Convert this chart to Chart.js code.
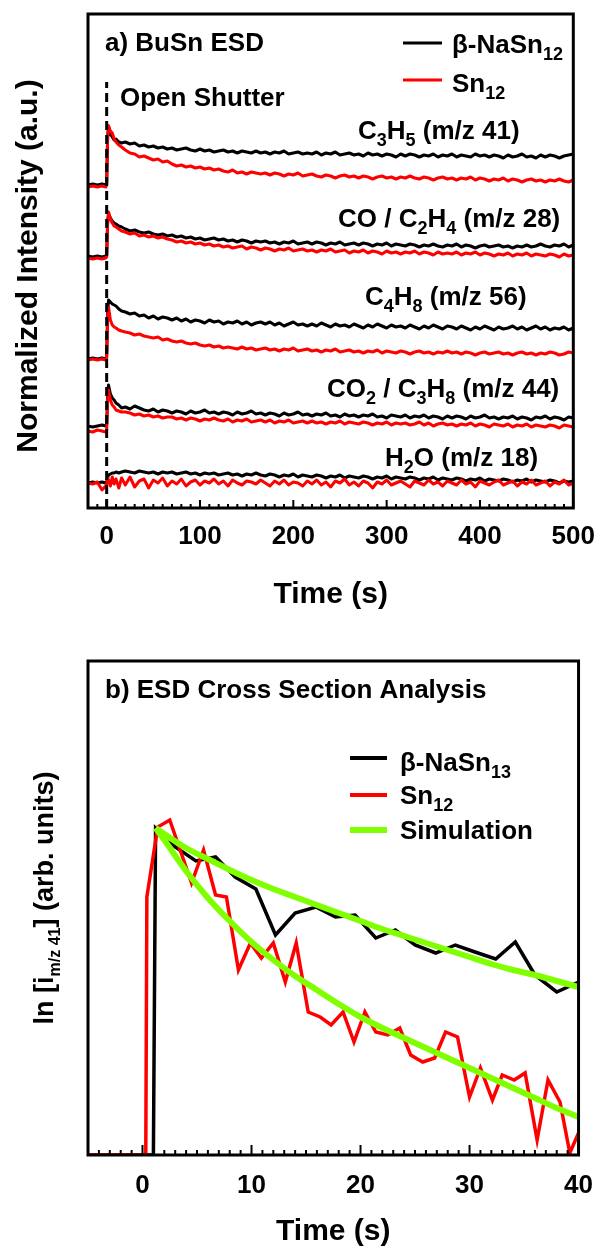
<!DOCTYPE html>
<html><head><meta charset="utf-8">
<script src="https://cdn.jsdelivr.net/npm/chart.js@4.4.0/dist/chart.umd.min.js"></script>
<style>
html,body{margin:0;padding:0;background:#fff;overflow:hidden;width:608px;height:1253px;}
canvas{position:absolute;left:0;}
#ca{top:0;} #cb{top:640px;}
</style></head><body>
<canvas id="ca" width="608" height="640" style="width:608px;height:640px"></canvas>
<canvas id="cb" width="608" height="640" style="width:608px;height:640px"></canvas>
<script>
// ---------- Panel a data (time in s, normalized intensity with offsets) ----------
const timeA = [-20,-15,-10,-5,-1,0,1,2,4,6,8,10,13,16,
 20,25,30,35,40,45,50,55,60,65,
 70,75,80,85,90,95,100,105,110,115,
 120,125,130,135,140,145,150,155,160,165,
 170,175,180,185,190,195,200,205,210,215,
 220,225,230,235,240,245,250,255,260,265,
 270,275,280,285,290,295,300,305,310,315,
 320,325,330,335,340,345,350,355,360,365,
 370,375,380,385,390,395,400,405,410,415,
 420,425,430,435,440,445,450,455,460,465,
 470,475,480,485,490,495,500];

const c3h5Black = [323,324,323,324,323,325,370,382,374,371,368,369,366,365,
 366,364,365,362,363,361,362,360,361,359,
 360,358,359,360,358,357,359,357,358,356,
 357,358,356,357,355,357,356,355,357,355,
 356,354,356,355,357,354,355,356,354,355,
 354,356,353,355,354,356,353,354,355,353,
 354,352,355,353,354,352,354,353,351,354,
 352,354,353,351,353,352,354,351,353,352,
 354,351,353,352,351,354,352,353,351,353,
 352,350,353,351,352,354,351,352,350,353,
 351,353,352,350,352,353,354];
const c3h5Red = [321,322,321,322,321,323,370,382,377,375,369,366,363,361,
 358,355,354,351,352,350,348,349,346,347,
 344,342,343,341,342,340,341,339,340,338,
 339,337,336,338,335,336,334,336,335,334,
 335,333,335,334,332,334,333,335,332,333,
 334,332,331,333,332,330,332,333,331,332,
 330,332,331,329,331,332,330,331,329,331,
 330,332,330,329,331,330,328,330,331,329,
 330,328,330,329,331,328,330,329,327,329,
 328,330,327,329,328,326,328,329,327,328,
 326,328,327,329,327,326,328];
const coBlack = [252,251,252,251,252,253,285,294,290,287,285,284,282,281,
 279,277,278,276,275,276,274,273,274,272,
 273,271,272,270,271,269,270,268,269,270,
 268,269,267,268,266,268,267,265,267,266,
 267,265,266,264,266,265,267,264,265,266,
 264,266,265,263,265,264,266,263,264,265,
 263,265,264,262,264,263,265,262,264,263,
 262,264,263,261,263,262,264,262,261,263,
 262,264,261,263,262,260,262,263,261,262,
 263,261,262,260,262,261,263,261,262,264,
 262,261,263,262,264,261,263];
const coRed = [250,249,250,249,250,251,285,296,289,285,282,281,279,277,
 276,274,275,272,273,271,272,270,271,269,
 268,266,267,265,266,264,265,263,264,262,
 263,261,262,260,261,262,259,261,260,258,
 260,259,257,259,258,260,257,258,259,257,
 258,256,258,257,259,256,257,258,255,257,
 256,258,255,257,256,254,257,255,256,254,
 256,255,257,254,256,255,253,256,254,255,
 254,256,253,255,254,256,253,255,254,252,
 254,253,255,252,254,253,255,252,254,253,
 252,254,253,251,254,252,253];
const c4h8Black = [149,150,149,150,149,151,195,208,206,204,203,202,199,197,
 196,194,195,192,193,190,192,189,191,190,
 188,190,187,189,186,188,187,185,188,186,
 187,184,186,185,187,184,186,183,185,186,
 184,186,183,185,182,184,186,183,184,182,
 184,182,185,183,181,184,182,183,181,184,
 182,180,183,181,184,182,180,183,181,182,
 180,183,181,179,182,180,183,181,179,182,
 181,179,182,180,178,181,179,182,180,178,
 181,179,180,182,179,181,178,180,182,179,
 181,178,180,179,181,178,180];
const c4h8Red = [148,149,148,149,148,150,190,201,188,183,181,180,178,177,
 176,175,173,174,172,171,170,171,168,169,
 167,166,167,165,164,165,163,162,163,161,
 162,160,161,160,159,161,159,160,158,159,
 160,158,159,157,159,158,160,157,158,159,
 157,158,156,158,157,159,156,157,158,156,
 157,155,157,156,158,155,157,156,155,157,
 156,154,156,157,155,156,154,156,155,157,
 155,156,154,156,155,153,155,156,154,155,
 156,154,155,153,155,156,154,155,153,155,
 154,156,155,153,154,156,155];
const co2Black = [82,81,82,83,82,83,112,123,114,110,108,105,103,100,
 101,99,102,100,98,97,99,96,98,97,
 95,97,96,94,97,95,96,98,95,96,
 94,96,95,93,96,94,95,97,94,95,
 93,95,94,92,95,93,94,96,93,94,
 92,94,93,95,92,93,91,94,92,93,
 91,93,92,94,91,92,90,93,92,91,
 93,90,92,91,93,90,92,91,89,92,
 90,92,91,89,92,90,91,93,90,91,
 89,91,90,92,89,91,90,88,91,90,
 92,89,91,90,88,91,90];
const co2Red = [77,76,78,77,76,78,108,118,108,103,101,98,97,96,
 96,95,93,94,92,93,91,92,90,91,
 91,89,90,88,90,89,87,89,88,90,
 88,87,89,86,88,87,89,86,87,88,
 86,88,85,87,86,88,85,86,87,85,
 87,85,86,84,86,85,87,84,86,85,
 84,86,85,83,85,84,86,83,85,84,
 85,83,84,86,83,85,82,84,85,83,
 84,82,84,83,85,82,84,83,81,84,
 83,82,84,81,83,82,84,81,83,82,
 81,83,82,80,83,82,81];
const h2oBlack = [25,26,25,26,25,26,30,33,34,35,35,36,35,36,
 37,36,35,37,36,35,36,34,36,35,
 36,34,35,36,34,35,33,35,34,35,
 33,34,35,33,34,32,34,33,35,33,
 32,34,33,31,33,32,34,31,33,32,
 31,33,32,30,32,31,33,30,32,31,
 30,32,31,29,31,30,32,29,31,30,
 29,31,30,28,30,29,31,28,30,29,
 28,30,29,27,29,28,30,27,29,28,
 27,29,28,26,28,27,29,26,28,27,
 26,28,27,25,27,26,27];
const h2oRed = [25,24,26,18,22,24,30,28,22,31,24,29,20,30,
 23,31,21,27,29,20,28,25,30,22,
 27,24,29,22,26,28,23,27,25,29,
 24,27,22,28,25,23,27,26,24,28,
 25,22,27,24,28,23,26,25,22,27,
 24,28,23,26,21,27,25,29,23,26,
 22,27,25,20,26,24,28,23,25,27,
 24,21,27,25,23,28,24,26,22,27,
 25,23,28,24,26,21,27,25,23,26,
 28,23,25,27,22,26,24,28,23,25,
 27,22,26,24,28,23,25];
const shutterLine = [{x:0,y:0},{x:0,y:426}];
const speciesLabels = ['C_{3}H_{5} (m/z 41)','CO / C_{2}H_{4} (m/z 28)','C_{4}H_{8} (m/z 56)','CO_{2} / C_{3}H_{8} (m/z 44)','H_{2}O (m/z 18)'];
const legendA = ['β-NaSn_{12}','Sn_{12}'];

// ---------- Panel b data ----------
const timeBlackB = [-5,1.0,1.2,3.0,4.9,6.7,8.5,10.4,12.2,14.0,15.9,17.7,19.5,21.4,23.2,25.0,26.9,28.7,30.5,32.4,34.2,36.0,38.0,40.0];
const lnBlack   = [0,0,327,308,294,298,278,266,220,242,248,238,240,217,225,210,202,210,203,196,213,180,163,173];
const timeRedB = [-5,0.3,0.4,1.4,2.5,4.5,5.6,6.7,7.7,8.8,9.9,10.9,12.0,13.1,14.1,15.2,16.3,17.3,18.4,19.4,20.4,21.4,22.5,23.6,24.6,25.7,26.8,27.8,28.9,30.0,31.0,32.1,33.0,34.1,35.1,36.2,37.2,38.3,39.2,40.0];
const lnRed   = [0,0,258,328,335,272,305,260,258,185,212,197,212,173,212,143,138,130,143,113,143,123,120,127,100,93,97,123,118,58,87,55,80,75,82,15,75,53,2,22];
const timeSim = [1.2,2,4,6,8,10,12,14,16,18,20,22,24,26,28,30,32,34,36,38,40];
const simBlack = [327,321,307,296,285,275,266,258,250,242,234,226,219,212,205,198,191,185,180,174,168];
const simRed   = [327,315,284,257,234,213,195,179,165,151,138,127,117,107,97,87,77,67,57,47,38];
const legendB = ['β-NaSn_{13}','Sn_{12}','Simulation'];

// ---------- helpers ----------
const FAM = '"Liberation Sans", Arial, Helvetica, sans-serif';
const toXY = (xs, ys) => xs.map((x,i)=>({x:x, y:ys[i]}));
function parseRich(s){
  const segs=[]; const re=/_\{([^}]*)\}/g; let last=0, m;
  while((m=re.exec(s))){ if(m.index>last) segs.push({t:s.slice(last,m.index),sub:false}); segs.push({t:m[1],sub:true}); last=re.lastIndex; }
  if(last<s.length) segs.push({t:s.slice(last),sub:false});
  return segs;
}
function drawRich(ctx, s, x, y, size, align, subSize){
  const segs=parseRich(s); const ss = subSize || Math.round(size*0.68);
  const fM=`bold ${size}px ${FAM}`, fS=`bold ${ss}px ${FAM}`;
  let w=0; segs.forEach(g=>{ctx.font=g.sub?fS:fM; g.w=ctx.measureText(g.t).width; w+=g.w;});
  let cx = align==='center'? x-w/2 : (align==='right'? x-w : x);
  ctx.textAlign='left'; ctx.textBaseline='alphabetic'; ctx.fillStyle='#000';
  segs.forEach(g=>{ctx.font=g.sub?fS:fM; ctx.fillText(g.t, cx, y + (g.sub? size*0.27:0)); cx+=g.w;});
}
function framePlugin(major, minorLen, majorLen){
  return {id:'frame', afterDatasetsDraw(chart){
    const {ctx, chartArea:a, scales:{x}} = chart;
    ctx.save(); ctx.strokeStyle='#000'; ctx.lineWidth=2;
    x.ticks.forEach(t=>{
      const px = x.getPixelForValue(t.value);
      const len = (Math.abs(t.value % major) < 1e-6) ? majorLen : minorLen;
      ctx.beginPath(); ctx.moveTo(px, a.bottom); ctx.lineTo(px, a.bottom-len); ctx.stroke();
    });
    ctx.lineWidth=3; ctx.strokeRect(a.left, a.top, a.right-a.left, a.bottom-a.top);
    ctx.restore();
  }};
}
const tickFont = {family:FAM, size:26, weight:'bold'};
const titleFont = {family:FAM, size:30, weight:'bold'};

// ---------- Panel a ----------
const annotA = {id:'annotA', afterDraw(chart){
  const ctx=chart.ctx; ctx.save();
  drawRich(ctx,'a) BuSn ESD',105,51,26,'left');
  drawRich(ctx,'Open Shutter',120,106,26,'left');
  const lx=[358,338,365,327,385], ly=[130,218,296,388,457];
  speciesLabels.forEach((s,i)=>drawRich(ctx,s,lx[i],ly[i]+9,26,'left',18));
  const ds=chart.data.datasets;
  [[ds[6].borderColor,43,53],[ds[1].borderColor,80,92]].forEach((r,i)=>{
    ctx.strokeStyle=r[0]; ctx.lineWidth=3; ctx.beginPath(); ctx.moveTo(403,r[1]); ctx.lineTo(442,r[1]); ctx.stroke();
    drawRich(ctx,legendA[i],452,r[2],26,'left',18);
  });
  ctx.translate(37,266); ctx.rotate(-Math.PI/2);
  drawRich(ctx,'Normalized Intensity (a.u.)',0,0,30,'center');
  ctx.restore();
}};
const redA = [c3h5Red, coRed, c4h8Red, co2Red, h2oRed];
const blackA = [c3h5Black, coBlack, c4h8Black, co2Black, h2oBlack];
const dsA = [{data:shutterLine, borderColor:'#000', borderDash:[9,5], borderWidth:3, order:0}];
redA.forEach(s=>dsA.push({data:toXY(timeA,s), borderColor:'#ff0000', borderWidth:3, order:1}));
blackA.forEach(s=>dsA.push({data:toXY(timeA,s), borderColor:'#000000', borderWidth:3, order:2}));

new Chart(document.getElementById('ca'), {
  type:'line',
  data:{datasets:dsA},
  options:{
    responsive:false, animation:false, devicePixelRatio:1,
    elements:{point:{radius:0}, line:{tension:0, borderJoinStyle:'round'}},
    layout:{padding:{left:0,right:26,top:14,bottom:0}},
    plugins:{legend:{display:false}, tooltip:{enabled:false}},
    scales:{
      x:{type:'linear', min:-20, max:500, afterFit(s){s.height=132;},
         grid:{display:false, drawTicks:false}, border:{display:false},
         ticks:{stepSize:10, autoSkip:false, maxRotation:0, padding:13, color:'#000', font:tickFont,
                callback:v=> (v%100===0 ? String(v) : '')},
         title:{display:true, text:'Time (s)', color:'#000', font:titleFont, padding:{top:0,bottom:27}}},
      y:{type:'linear', min:0, max:494, afterFit(s){s.width=88;},
         ticks:{display:false}, grid:{display:false, drawTicks:false}, border:{display:false}}
    }
  },
  plugins:[framePlugin(100,4,8), annotA]
});

// ---------- Panel b ----------
const annotB = {id:'annotB', afterDraw(chart){
  const ctx=chart.ctx; ctx.save();
  drawRich(ctx,'b) ESD Cross Section Analysis',105,58,26,'left');
  const ds=chart.data.datasets;
  const rows=[[ds[2].borderColor,4,118,122],[ds[1].borderColor,4,155,155],[ds[0].borderColor,6,190,190]];
  rows.forEach((r,i)=>{
    ctx.strokeStyle=r[0]; ctx.lineWidth=r[1]; ctx.beginPath(); ctx.moveTo(350,r[2]); ctx.lineTo(387,r[2]); ctx.stroke();
    drawRich(ctx,legendB[i],400,r[3]+9,26,'left',18);
  });
  ctx.translate(53,258); ctx.rotate(-Math.PI/2);
  drawRich(ctx,'ln [i_{m/z 41}] (arb. units)',0,0,27,'center',16);
  ctx.restore();
}};

new Chart(document.getElementById('cb'), {
  type:'line',
  data:{datasets:[
    {data:toXY(timeSim,simBlack).concat([{x:null,y:null}]).concat(toXY(timeSim,simRed)), borderColor:'#80ff00', borderWidth:6, order:0, cubicInterpolationMode:'monotone', spanGaps:false},
    {data:toXY(timeRedB,lnRed), borderColor:'#ff0000', borderWidth:3.5, order:1},
    {data:toXY(timeBlackB,lnBlack), borderColor:'#000000', borderWidth:3.5, order:2}
  ]},
  options:{
    responsive:false, animation:false, devicePixelRatio:1,
    elements:{point:{radius:0}, line:{tension:0, borderJoinStyle:'miter'}},
    layout:{padding:{left:0,right:26,top:21,bottom:0}},
    plugins:{legend:{display:false}, tooltip:{enabled:false}},
    scales:{
      x:{type:'linear', min:-5, max:40, afterFit(s){s.height=125;},
         grid:{display:false, drawTicks:false}, border:{display:false},
         ticks:{stepSize:1, autoSkip:false, maxRotation:0, padding:15, color:'#000', font:tickFont,
                callback:v=> (v%10===0 ? String(v) : '')},
         title:{display:true, text:'Time (s)', color:'#000', font:titleFont, padding:{top:0,bottom:30}}},
      y:{type:'linear', min:0, max:494, afterFit(s){s.width=88;},
         ticks:{display:false}, grid:{display:false, drawTicks:false}, border:{display:false}}
    }
  },
  plugins:[framePlugin(10,5,10), annotB]
});
</script>
</body></html>
